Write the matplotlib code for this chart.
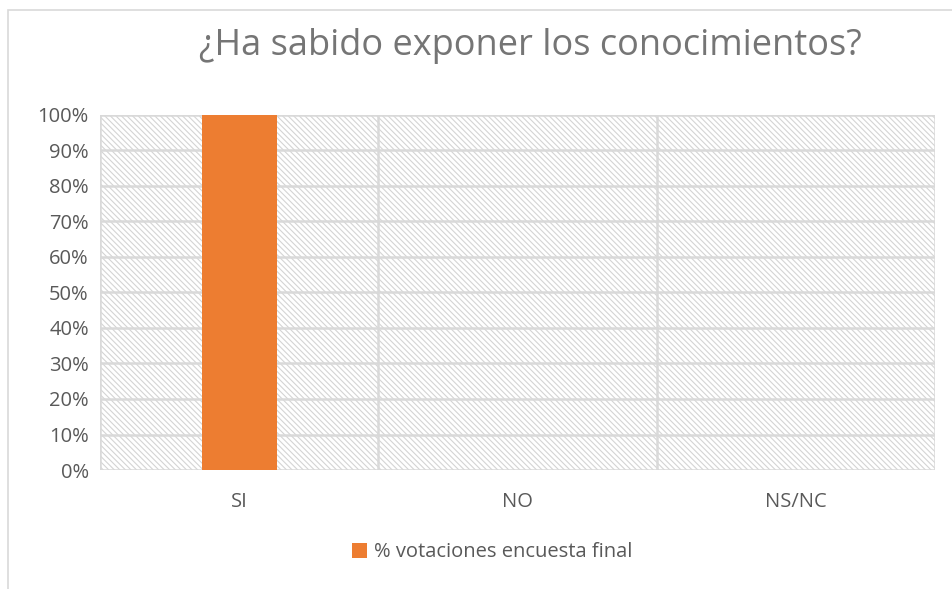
import matplotlib.pyplot as plt
from matplotlib.patches import Rectangle

plt.rcParams['font.family'] = ['Open Sans', 'DejaVu Sans']
plt.rcParams['hatch.color'] = '#d4d4d4'
plt.rcParams['hatch.linewidth'] = 0.8

categorias = ['SI', 'NO', 'NS/NC']
votaciones = [1.0, 0.0, 0.0]
ticks_y = [0, 0.1, 0.2, 0.3, 0.4, 0.5, 0.6, 0.7, 0.8, 0.9, 1.0]
etiquetas_y = ['0%', '10%', '20%', '30%', '40%', '50%', '60%', '70%', '80%', '90%', '100%']

fig = plt.figure(figsize=(9.52, 5.89), dpi=100)
ax = fig.add_axes([0.105, 0.202, 0.877, 0.603])

# marco del gráfico
fig.patches.append(Rectangle((8 / 952, -0.1), 1.2, 1 - 10 / 589 + 0.1, transform=fig.transFigure,
                             fill=False, edgecolor='#d9d9d9', linewidth=1.2))

# fondo rayado del área de trazado
ax.add_patch(Rectangle((-0.5, 0), 3, 1, facecolor='white', hatch='\\\\\\\\\\\\',
                       edgecolor='#d4d4d4', linewidth=0, zorder=0))

ax.bar(range(len(categorias)), votaciones, width=0.27, color='#ed7d31',
       label='% votaciones encuesta final', zorder=3)

ax.set_xlim(-0.5, 2.5)
ax.set_ylim(0, 1)
ax.set_yticks(ticks_y)
ax.set_yticklabels(etiquetas_y)
ax.set_xticks(range(len(categorias)))
ax.set_xticklabels(categorias)
ax.tick_params(axis='both', length=0, labelsize=14.5, colors='#595959')
ax.tick_params(axis='x', pad=16)
ax.tick_params(axis='y', pad=8)

for y in ticks_y:
    ax.axhline(y, color='#d9d9d9', linewidth=1.8, zorder=1)
for x in [-0.5, 0.5, 1.5, 2.5]:
    ax.axvline(x, color='#d9d9d9', linewidth=1.8, zorder=1)
for s in ax.spines.values():
    s.set_visible(False)

fig.text(0.557, 0.922, '¿Ha sabido exponer los conocimientos?', ha='center', va='center',
         fontsize=26, color='#757575')

fig.legend(loc='center', bbox_to_anchor=(0.517, 0.062), frameon=False, fontsize=14.5,
           labelcolor='#595959', handlelength=0.75, handleheight=0.75, handletextpad=0.35)

fig.savefig('out.png', dpi=100)
